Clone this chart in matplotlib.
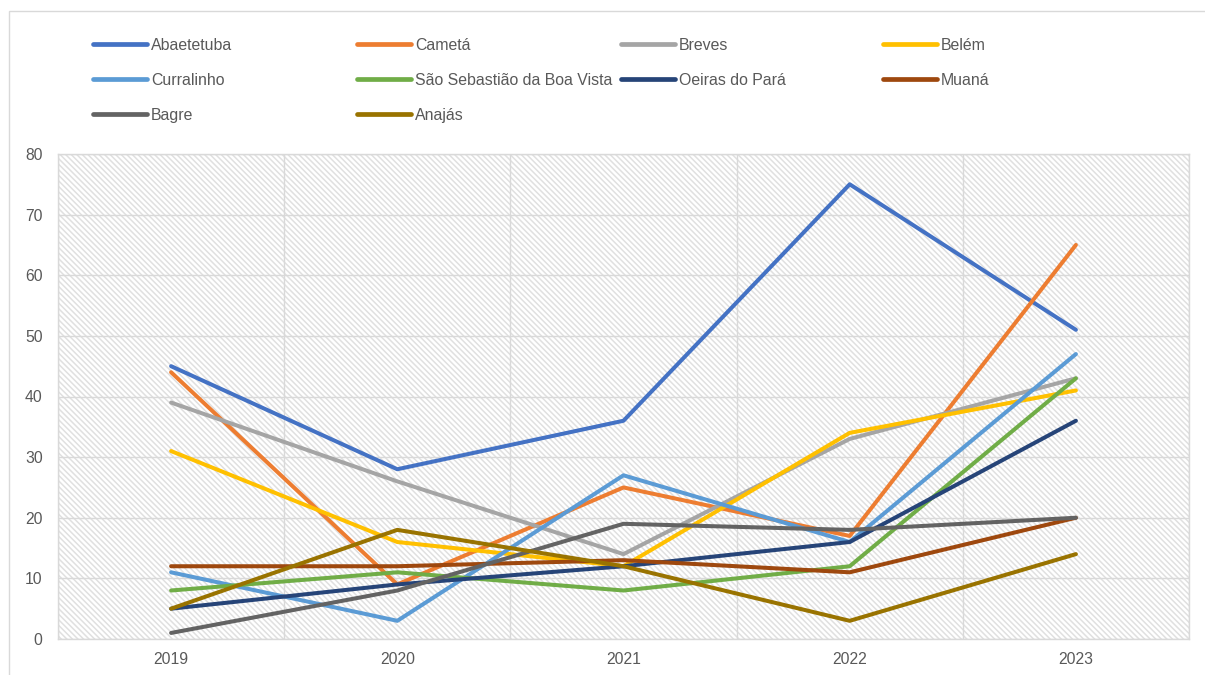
import matplotlib
matplotlib.use("Agg")
import matplotlib.pyplot as plt
from matplotlib.patches import Rectangle

plt.rcParams['font.family'] = ['Liberation Sans', 'DejaVu Sans']
plt.rcParams['hatch.linewidth'] = 1.1

years = ["2019", "2020", "2021", "2022", "2023"]
names = ["Abaetetuba", "Cametá", "Breves", "Belém", "Curralinho",
         "São Sebastião da Boa Vista", "Oeiras do Pará", "Muaná", "Bagre", "Anajás"]
abaetetuba = [45, 28, 36, 75, 51]
cameta = [44, 9, 25, 17, 65]
breves = [39, 26, 14, 33, 43]
belem = [31, 16, 12, 34, 41]
curralinho = [11, 3, 27, 16, 47]
sao_sebastiao = [8, 11, 8, 12, 43]
oeiras = [5, 9, 12, 16, 36]
muana = [12, 12, 13, 11, 20]
bagre = [1, 8, 19, 18, 20]
anajas = [5, 18, 12, 3, 14]
series = [abaetetuba, cameta, breves, belem, curralinho,
          sao_sebastiao, oeiras, muana, bagre, anajas]
colors = ["#4472C4", "#ED7D31", "#A5A5A5", "#FFC000", "#5B9BD5",
          "#70AD47", "#264478", "#9E480E", "#636363", "#997300"]

W, H = 1205, 675
fig = plt.figure(figsize=(W / 100, H / 100), dpi=100)
fig.patch.set_facecolor("white")

# chart frame
fig.add_artist(Rectangle((9 / W, -0.1), 1.2, 1 - 11 / H + 0.1, transform=fig.transFigure,
                         fill=False, edgecolor="#D9D9D9", linewidth=1.0))

ax = fig.add_axes([58 / W, 36 / H, (1189 - 58) / W, (639 - 154) / H])
ax.set_facecolor("white")
ax.add_patch(Rectangle((0, 0), 1, 1, transform=ax.transAxes, facecolor="white",
                       edgecolor="#E0E0E0", hatch="\\" * 6, linewidth=0, zorder=0))

x = list(range(len(years)))
handles = []
for vals, name, c in zip(series, names, colors):
    h, = ax.plot(x, vals, color=c, linewidth=2.9, solid_capstyle="round",
                 solid_joinstyle="round", label=name, zorder=3)
    handles.append(h)

ax.set_xlim(-0.5, 4.5)
ax.set_ylim(0, 80)
ax.set_yticks(range(0, 81, 10))
ax.set_xticks(x)
ax.set_xticklabels(years)
ax.set_xticks([i + 0.5 for i in range(-1, 5)], minor=True)
ax.grid(True, which="major", axis="y", color="#D9D9D9", linewidth=1.0, zorder=1)
ax.grid(True, which="minor", axis="x", color="#D9D9D9", linewidth=1.0, zorder=1)
ax.set_axisbelow(True)
ax.tick_params(axis="both", which="both", length=0, colors="#595959", labelsize=11.3)
ax.tick_params(axis="y", pad=11)
ax.tick_params(axis="x", pad=9)
for s in ax.spines.values():
    s.set_color("#D9D9D9")
    s.set_linewidth(1.0)

# legend: 4 evenly spaced columns, filled row-wise
col_x = [93, 357, 621, 883]
ncol = 4
for c in range(ncol):
    idx = list(range(c, len(names), ncol))
    leg = fig.legend([handles[i] for i in idx], [names[i] for i in idx],
                     loc="upper left", bbox_to_anchor=(col_x[c] / W, 1 - 38 / H),
                     frameon=False, fontsize=11.4, handlelength=3.4,
                     handletextpad=0.25, labelspacing=1.25, borderpad=0,
                     borderaxespad=0, labelcolor="#595959")
    for lh in leg.get_lines():
        lh.set_linewidth(3.4)
        lh.set_solid_capstyle("round")

fig.savefig("out.png", dpi=100)
